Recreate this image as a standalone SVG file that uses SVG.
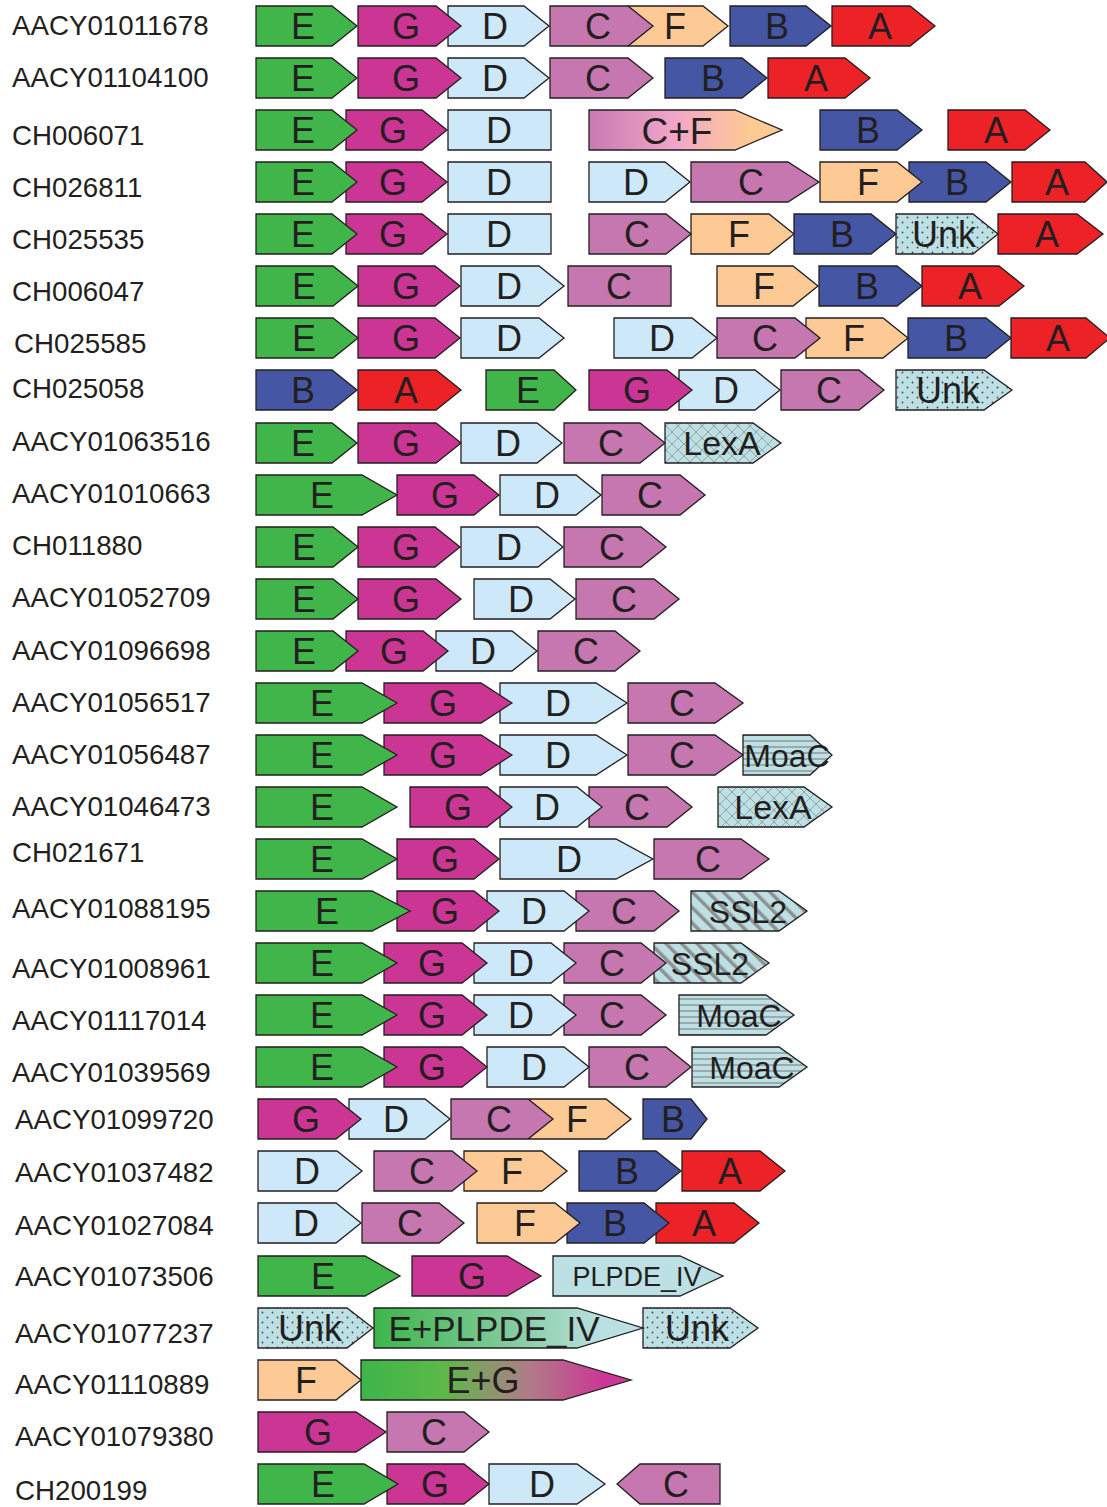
<svg xmlns="http://www.w3.org/2000/svg" width="1107" height="1507" viewBox="0 0 1107 1507">
<style>
text{font-family:"Liberation Sans",Arial,sans-serif;fill:#231f20}
.lb{font-size:27.7px}
.gt{font-size:36px;text-anchor:middle}
.u{font-size:36px}
.s{font-size:32px}
.lx{font-size:34px}
.p{font-size:27px}
.cf{font-size:37px}
.ep{font-size:35px}
path{stroke:#231f20;stroke-width:1.3;stroke-linejoin:miter}
.E{fill:#40b54a}.G{fill:#cb3593}.D{fill:#cde9f9}.C{fill:#c777b0}.F{fill:#fdca95}.B{fill:#4556a4}.A{fill:#ec2227}
.PL{fill:#bce0e3}.UN{fill:url(#pUnk)}.LX{fill:url(#pLex)}.MO{fill:url(#pMoa)}.SS{fill:url(#pSsl)}
.CF{fill:url(#gCF)}.EP{fill:url(#gEP)}.EG{fill:url(#gEG)}
</style>
<defs>
<pattern id="pUnk" width="10" height="10" patternUnits="userSpaceOnUse"><rect width="10" height="10" fill="#bde0e4"/><circle cx="2.5" cy="2.5" r="0.9" fill="#3f4a4c"/><circle cx="7.5" cy="7.5" r="0.9" fill="#3f4a4c"/></pattern>
<pattern id="pLex" width="12" height="12" patternUnits="userSpaceOnUse"><rect width="12" height="12" fill="#bde0e4"/><path d="M0,0L12,12M12,0L0,12" style="stroke:#95a3a5;stroke-width:1"/></pattern>
<pattern id="pMoa" width="6" height="6" patternUnits="userSpaceOnUse"><rect width="6" height="6" fill="#bde0e4"/><rect y="2.3" width="6" height="1.4" fill="#8b9496"/></pattern>
<pattern id="pSsl" width="11" height="11" patternUnits="userSpaceOnUse" patternTransform="rotate(-45)"><rect width="11" height="11" fill="#bde0e4"/><rect width="3.5" height="11" fill="#8e9192"/></pattern>
<linearGradient id="gCF" x1="0" y1="0" x2="1" y2="0"><stop offset="0" stop-color="#c87ab1"/><stop offset="0.45" stop-color="#f3a6c9"/><stop offset="0.82" stop-color="#fdc994"/></linearGradient>
<linearGradient id="gEP" x1="0" y1="0" x2="1" y2="0"><stop offset="0" stop-color="#3db54a"/><stop offset="0.5" stop-color="#80cb9b"/><stop offset="0.85" stop-color="#bbe0e2"/></linearGradient>
<linearGradient id="gEG" x1="0" y1="0" x2="1" y2="0"><stop offset="0" stop-color="#3db54a"/><stop offset="0.3" stop-color="#5cb948"/><stop offset="0.62" stop-color="#b07c88"/><stop offset="0.9" stop-color="#cc3694"/></linearGradient>
</defs>

<g id="labels" class="lb">
<text class="lb" x="12" y="35">AACY01011678</text>
<text class="lb" x="12" y="87">AACY01104100</text>
<text class="lb" x="12" y="145">CH006071</text>
<text class="lb" x="12" y="197">CH026811</text>
<text class="lb" x="12" y="249">CH025535</text>
<text class="lb" x="12" y="301">CH006047</text>
<text class="lb" x="14" y="353">CH025585</text>
<text class="lb" x="12" y="398">CH025058</text>
<text class="lb" x="12" y="451">AACY01063516</text>
<text class="lb" x="12" y="503">AACY01010663</text>
<text class="lb" x="12" y="555">CH011880</text>
<text class="lb" x="12" y="607">AACY01052709</text>
<text class="lb" x="12" y="660">AACY01096698</text>
<text class="lb" x="12" y="712">AACY01056517</text>
<text class="lb" x="12" y="764">AACY01056487</text>
<text class="lb" x="12" y="816">AACY01046473</text>
<text class="lb" x="12" y="862">CH021671</text>
<text class="lb" x="12" y="918">AACY01088195</text>
<text class="lb" x="12" y="978">AACY01008961</text>
<text class="lb" x="12" y="1030">AACY01117014</text>
<text class="lb" x="12" y="1082">AACY01039569</text>
<text class="lb" x="15" y="1129">AACY01099720</text>
<text class="lb" x="15" y="1182">AACY01037482</text>
<text class="lb" x="15" y="1235">AACY01027084</text>
<text class="lb" x="15" y="1286">AACY01073506</text>
<text class="lb" x="15" y="1343">AACY01077237</text>
<text class="lb" x="15" y="1394">AACY01110889</text>
<text class="lb" x="15" y="1446">AACY01079380</text>
<text class="lb" x="15" y="1500">CH200199</text>
</g>

<g id="row1">
<g id="r1-A"><path class="A" d="M832 6H910L935 26L910 46H832Z"/><text class="gt" x="880" y="39">A</text></g>
<g id="r1-B"><path class="B" d="M730 6H806L831 26L806 46H730Z"/><text class="gt" x="777" y="39">B</text></g>
<g id="r1-F"><path class="F" d="M628 6H703L728 26L703 46H628Z"/><text class="gt" x="675" y="39">F</text></g>
<g id="r1-C"><path class="C" d="M550 6H628L653 26L628 46H550Z"/><text class="gt" x="598" y="39">C</text></g>
<g id="r1-D"><path class="D" d="M448 6H524L549 26L524 46H448Z"/><text class="gt" x="495" y="39">D</text></g>
<g id="r1-G"><path class="G" d="M358 6H436L461 26L436 46H358Z"/><text class="gt" x="406" y="39">G</text></g>
<g id="r1-E"><path class="E" d="M256 6H332L357 26L332 46H256Z"/><text class="gt" x="303" y="39">E</text></g>
</g>

<g id="row2">
<g id="r2-A"><path class="A" d="M768 58H845L870 78L845 98H768Z"/><text class="gt" x="816" y="91">A</text></g>
<g id="r2-B"><path class="B" d="M665 58H742L767 78L742 98H665Z"/><text class="gt" x="713" y="91">B</text></g>
<g id="r2-C"><path class="C" d="M550 58H628L653 78L628 98H550Z"/><text class="gt" x="598" y="91">C</text></g>
<g id="r2-D"><path class="D" d="M448 58H524L549 78L524 98H448Z"/><text class="gt" x="495" y="91">D</text></g>
<g id="r2-G"><path class="G" d="M358 58H436L461 78L436 98H358Z"/><text class="gt" x="406" y="91">G</text></g>
<g id="r2-E"><path class="E" d="M256 58H332L357 78L332 98H256Z"/><text class="gt" x="303" y="91">E</text></g>
</g>

<g id="row3">
<g id="r3-A"><path class="A" d="M948 110H1025L1050 130L1025 150H948Z"/><text class="gt" x="996" y="143">A</text></g>
<g id="r3-B"><path class="B" d="M820 110H897L922 130L897 150H820Z"/><text class="gt" x="868" y="143">B</text></g>
<g id="r3-CF"><path class="CF" d="M589 110H735L782 130L735 150H589Z"/><text class="gt cf" x="677" y="144">C+F</text></g>
<g id="r3-D"><path class="D" d="M448 110H551V150H448Z"/><text class="gt" x="499" y="143">D</text></g>
<g id="r3-G"><path class="G" d="M346 110H422L447 130L422 150H346Z"/><text class="gt" x="393" y="143">G</text></g>
<g id="r3-E"><path class="E" d="M256 110H332L357 130L332 150H256Z"/><text class="gt" x="303" y="143">E</text></g>
</g>

<g id="row4">
<g id="r4-A"><path class="A" d="M1012 162H1085L1107 182L1085 202H1012Z"/><text class="gt" x="1057" y="195">A</text></g>
<g id="r4-B"><path class="B" d="M909 162H986L1011 182L986 202H909Z"/><text class="gt" x="957" y="195">B</text></g>
<g id="r4-F"><path class="F" d="M820 162H897L922 182L897 202H820Z"/><text class="gt" x="868" y="195">F</text></g>
<g id="r4-C"><path class="C" d="M691 162H788L819 182L788 202H691Z"/><text class="gt" x="751" y="195">C</text></g>
<g id="r4-D2"><path class="D" d="M589 162H665L690 182L665 202H589Z"/><text class="gt" x="636" y="195">D</text></g>
<g id="r4-D"><path class="D" d="M448 162H551V202H448Z"/><text class="gt" x="499" y="195">D</text></g>
<g id="r4-G"><path class="G" d="M346 162H422L447 182L422 202H346Z"/><text class="gt" x="393" y="195">G</text></g>
<g id="r4-E"><path class="E" d="M256 162H332L357 182L332 202H256Z"/><text class="gt" x="303" y="195">E</text></g>
</g>

<g id="row5">
<g id="r5-A"><path class="A" d="M998 214H1077L1103 234L1077 254H998Z"/><text class="gt" x="1047" y="247">A</text></g>
<g id="r5-Unk"><path class="UN" d="M896 214H973L998 234L973 254H896Z"/><text class="gt u" x="944" y="247">Unk</text></g>
<g id="r5-B"><path class="B" d="M794 214H871L896 234L871 254H794Z"/><text class="gt" x="842" y="247">B</text></g>
<g id="r5-F"><path class="F" d="M691 214H769L794 234L769 254H691Z"/><text class="gt" x="739" y="247">F</text></g>
<g id="r5-C"><path class="C" d="M589 214H666L691 234L666 254H589Z"/><text class="gt" x="637" y="247">C</text></g>
<g id="r5-D"><path class="D" d="M448 214H551V254H448Z"/><text class="gt" x="499" y="247">D</text></g>
<g id="r5-G"><path class="G" d="M346 214H422L447 234L422 254H346Z"/><text class="gt" x="393" y="247">G</text></g>
<g id="r5-E"><path class="E" d="M256 214H332L357 234L332 254H256Z"/><text class="gt" x="303" y="247">E</text></g>
</g>

<g id="row6">
<g id="r6-A"><path class="A" d="M922 266H999L1024 286L999 306H922Z"/><text class="gt" x="970" y="299">A</text></g>
<g id="r6-B"><path class="B" d="M819 266H897L922 286L897 306H819Z"/><text class="gt" x="867" y="299">B</text></g>
<g id="r6-F"><path class="F" d="M717 266H793L818 286L793 306H717Z"/><text class="gt" x="764" y="299">F</text></g>
<g id="r6-C"><path class="C" d="M568 266H671V306H568Z"/><text class="gt" x="619" y="299">C</text></g>
<g id="r6-D"><path class="D" d="M461 266H539L564 286L539 306H461Z"/><text class="gt" x="509" y="299">D</text></g>
<g id="r6-G"><path class="G" d="M358 266H435L460 286L435 306H358Z"/><text class="gt" x="406" y="299">G</text></g>
<g id="r6-E"><path class="E" d="M256 266H333L358 286L333 306H256Z"/><text class="gt" x="304" y="299">E</text></g>
</g>

<g id="row7">
<g id="r7-A"><path class="A" d="M1011 318H1086L1110 338L1086 358H1011Z"/><text class="gt" x="1058" y="351">A</text></g>
<g id="r7-B"><path class="B" d="M908 318H986L1011 338L986 358H908Z"/><text class="gt" x="956" y="351">B</text></g>
<g id="r7-F"><path class="F" d="M806 318H883L908 338L883 358H806Z"/><text class="gt" x="854" y="351">F</text></g>
<g id="r7-C"><path class="C" d="M717 318H795L820 338L795 358H717Z"/><text class="gt" x="765" y="351">C</text></g>
<g id="r7-D2"><path class="D" d="M614 318H692L717 338L692 358H614Z"/><text class="gt" x="662" y="351">D</text></g>
<g id="r7-D"><path class="D" d="M461 318H539L564 338L539 358H461Z"/><text class="gt" x="509" y="351">D</text></g>
<g id="r7-G"><path class="G" d="M358 318H435L460 338L435 358H358Z"/><text class="gt" x="406" y="351">G</text></g>
<g id="r7-E"><path class="E" d="M256 318H333L358 338L333 358H256Z"/><text class="gt" x="304" y="351">E</text></g>
</g>

<g id="row8">
<g id="r8-Unk"><path class="UN" d="M896 370H984L1012 390L984 410H896Z"/><text class="gt u" x="948" y="403">Unk</text></g>
<g id="r8-C"><path class="C" d="M781 370H859L884 390L859 410H781Z"/><text class="gt" x="829" y="403">C</text></g>
<g id="r8-D"><path class="D" d="M679 370H755L780 390L755 410H679Z"/><text class="gt" x="726" y="403">D</text></g>
<g id="r8-G"><path class="G" d="M589 370H667L692 390L667 410H589Z"/><text class="gt" x="637" y="403">G</text></g>
<g id="r8-E"><path class="E" d="M486 370H554L576 390L554 410H486Z"/><text class="gt" x="528" y="403">E</text></g>
<g id="r8-A"><path class="A" d="M358 370H436L461 390L436 410H358Z"/><text class="gt" x="406" y="403">A</text></g>
<g id="r8-B"><path class="B" d="M256 370H332L357 390L332 410H256Z"/><text class="gt" x="303" y="403">B</text></g>
</g>

<g id="row9">
<g id="r9-LexA"><path class="LX" d="M665 423H753L781 443L753 463H665Z"/><text class="gt lx" x="722" y="455">LexA</text></g>
<g id="r9-C"><path class="C" d="M564 423H640L665 443L640 463H564Z"/><text class="gt" x="611" y="456">C</text></g>
<g id="r9-D"><path class="D" d="M461 423H537L562 443L537 463H461Z"/><text class="gt" x="508" y="456">D</text></g>
<g id="r9-G"><path class="G" d="M358 423H436L461 443L436 463H358Z"/><text class="gt" x="406" y="456">G</text></g>
<g id="r9-E"><path class="E" d="M256 423H332L357 443L332 463H256Z"/><text class="gt" x="303" y="456">E</text></g>
</g>

<g id="row10">
<g id="r10-C"><path class="C" d="M602 475H680L705 495L680 515H602Z"/><text class="gt" x="650" y="508">C</text></g>
<g id="r10-D"><path class="D" d="M500 475H576L601 495L576 515H500Z"/><text class="gt" x="547" y="508">D</text></g>
<g id="r10-G"><path class="G" d="M397 475H474L499 495L474 515H397Z"/><text class="gt" x="445" y="508">G</text></g>
<g id="r10-E"><path class="E" d="M256 475H362L397 495L362 515H256Z"/><text class="gt" x="322" y="508">E</text></g>
</g>

<g id="row11">
<g id="r11-C"><path class="C" d="M564 527H641L666 547L641 567H564Z"/><text class="gt" x="612" y="560">C</text></g>
<g id="r11-D"><path class="D" d="M461 527H538L563 547L538 567H461Z"/><text class="gt" x="509" y="560">D</text></g>
<g id="r11-G"><path class="G" d="M358 527H435L460 547L435 567H358Z"/><text class="gt" x="406" y="560">G</text></g>
<g id="r11-E"><path class="E" d="M256 527H333L358 547L333 567H256Z"/><text class="gt" x="304" y="560">E</text></g>
</g>

<g id="row12">
<g id="r12-C"><path class="C" d="M576 579H654L679 599L654 619H576Z"/><text class="gt" x="624" y="612">C</text></g>
<g id="r12-D"><path class="D" d="M474 579H550L575 599L550 619H474Z"/><text class="gt" x="521" y="612">D</text></g>
<g id="r12-G"><path class="G" d="M358 579H436L461 599L436 619H358Z"/><text class="gt" x="406" y="612">G</text></g>
<g id="r12-E"><path class="E" d="M256 579H333L358 599L333 619H256Z"/><text class="gt" x="304" y="612">E</text></g>
</g>

<g id="row13">
<g id="r13-C"><path class="C" d="M538 631H615L640 651L615 671H538Z"/><text class="gt" x="586" y="664">C</text></g>
<g id="r13-D"><path class="D" d="M436 631H512L537 651L512 671H436Z"/><text class="gt" x="483" y="664">D</text></g>
<g id="r13-G"><path class="G" d="M346 631H423L448 651L423 671H346Z"/><text class="gt" x="394" y="664">G</text></g>
<g id="r13-E"><path class="E" d="M256 631H333L358 651L333 671H256Z"/><text class="gt" x="304" y="664">E</text></g>
</g>

<g id="row14">
<g id="r14-C"><path class="C" d="M628 683H715L743 703L715 723H628Z"/><text class="gt" x="682" y="716">C</text></g>
<g id="r14-D"><path class="D" d="M500 683H596L627 703L596 723H500Z"/><text class="gt" x="558" y="716">D</text></g>
<g id="r14-G"><path class="G" d="M384 683H481L512 703L481 723H384Z"/><text class="gt" x="443" y="716">G</text></g>
<g id="r14-E"><path class="E" d="M256 683H362L397 703L362 723H256Z"/><text class="gt" x="322" y="716">E</text></g>
</g>

<g id="row15">
<g id="r15-MoaC"><path class="MO" d="M743 735H810L832 755L810 775H743Z"/><text class="gt s" x="787" y="767">MoaC</text></g>
<g id="r15-C"><path class="C" d="M628 735H715L743 755L715 775H628Z"/><text class="gt" x="682" y="768">C</text></g>
<g id="r15-D"><path class="D" d="M500 735H596L627 755L596 775H500Z"/><text class="gt" x="558" y="768">D</text></g>
<g id="r15-G"><path class="G" d="M384 735H481L512 755L481 775H384Z"/><text class="gt" x="443" y="768">G</text></g>
<g id="r15-E"><path class="E" d="M256 735H362L397 755L362 775H256Z"/><text class="gt" x="322" y="768">E</text></g>
</g>

<g id="row16">
<g id="r16-LexA"><path class="LX" d="M718 787H804L832 807L804 827H718Z"/><text class="gt lx" x="773" y="819">LexA</text></g>
<g id="r16-C"><path class="C" d="M589 787H667L692 807L667 827H589Z"/><text class="gt" x="637" y="820">C</text></g>
<g id="r16-D"><path class="D" d="M500 787H577L602 807L577 827H500Z"/><text class="gt" x="547" y="820">D</text></g>
<g id="r16-G"><path class="G" d="M410 787H487L512 807L487 827H410Z"/><text class="gt" x="458" y="820">G</text></g>
<g id="r16-E"><path class="E" d="M256 787H362L397 807L362 827H256Z"/><text class="gt" x="322" y="820">E</text></g>
</g>

<g id="row17">
<g id="r17-C"><path class="C" d="M654 839H741L769 859L741 879H654Z"/><text class="gt" x="708" y="872">C</text></g>
<g id="r17-D"><path class="D" d="M500 839H616L653 859L616 879H500Z"/><text class="gt" x="569" y="872">D</text></g>
<g id="r17-G"><path class="G" d="M397 839H474L499 859L474 879H397Z"/><text class="gt" x="445" y="872">G</text></g>
<g id="r17-E"><path class="E" d="M256 839H362L397 859L362 879H256Z"/><text class="gt" x="322" y="872">E</text></g>
</g>

<g id="row18">
<g id="r18-SSL2"><path class="SS" d="M691 891H779L807 911L779 931H691Z"/><text class="gt s" x="748" y="923">SSL2</text></g>
<g id="r18-C"><path class="C" d="M576 891H654L679 911L654 931H576Z"/><text class="gt" x="624" y="924">C</text></g>
<g id="r18-D"><path class="D" d="M487 891H564L589 911L564 931H487Z"/><text class="gt" x="534" y="924">D</text></g>
<g id="r18-G"><path class="G" d="M397 891H474L499 911L474 931H397Z"/><text class="gt" x="445" y="924">G</text></g>
<g id="r18-E"><path class="E" d="M256 891H372L410 911L372 931H256Z"/><text class="gt" x="327" y="924">E</text></g>
</g>

<g id="row19">
<g id="r19-SSL2"><path class="SS" d="M654 943H741L769 963L741 983H654Z"/><text class="gt s" x="710" y="975">SSL2</text></g>
<g id="r19-C"><path class="C" d="M564 943H641L666 963L641 983H564Z"/><text class="gt" x="612" y="976">C</text></g>
<g id="r19-D"><path class="D" d="M474 943H551L576 963L551 983H474Z"/><text class="gt" x="521" y="976">D</text></g>
<g id="r19-G"><path class="G" d="M384 943H462L487 963L462 983H384Z"/><text class="gt" x="432" y="976">G</text></g>
<g id="r19-E"><path class="E" d="M256 943H362L397 963L362 983H256Z"/><text class="gt" x="322" y="976">E</text></g>
</g>

<g id="row20">
<g id="r20-MoaC"><path class="MO" d="M679 995H766L794 1015L766 1035H679Z"/><text class="gt s" x="739" y="1027">MoaC</text></g>
<g id="r20-C"><path class="C" d="M564 995H641L666 1015L641 1035H564Z"/><text class="gt" x="612" y="1028">C</text></g>
<g id="r20-D"><path class="D" d="M474 995H551L576 1015L551 1035H474Z"/><text class="gt" x="521" y="1028">D</text></g>
<g id="r20-G"><path class="G" d="M384 995H462L487 1015L462 1035H384Z"/><text class="gt" x="432" y="1028">G</text></g>
<g id="r20-E"><path class="E" d="M256 995H362L397 1015L362 1035H256Z"/><text class="gt" x="322" y="1028">E</text></g>
</g>

<g id="row21">
<g id="r21-MoaC"><path class="MO" d="M692 1047H779L807 1067L779 1087H692Z"/><text class="gt s" x="752" y="1079">MoaC</text></g>
<g id="r21-C"><path class="C" d="M589 1047H666L691 1067L666 1087H589Z"/><text class="gt" x="637" y="1080">C</text></g>
<g id="r21-D"><path class="D" d="M487 1047H564L589 1067L564 1087H487Z"/><text class="gt" x="534" y="1080">D</text></g>
<g id="r21-G"><path class="G" d="M384 1047H462L487 1067L462 1087H384Z"/><text class="gt" x="432" y="1080">G</text></g>
<g id="r21-E"><path class="E" d="M256 1047H362L397 1067L362 1087H256Z"/><text class="gt" x="322" y="1080">E</text></g>
</g>

<g id="row22">
<g id="r22-B"><path class="B" d="M643 1099H691L707 1119L691 1139H643Z"/><text class="gt" x="673" y="1132">B</text></g>
<g id="r22-F"><path class="F" d="M529 1099H606L631 1119L606 1139H529Z"/><text class="gt" x="577" y="1132">F</text></g>
<g id="r22-C"><path class="C" d="M451 1099H528L553 1119L528 1139H451Z"/><text class="gt" x="499" y="1132">C</text></g>
<g id="r22-D"><path class="D" d="M349 1099H425L450 1119L425 1139H349Z"/><text class="gt" x="396" y="1132">D</text></g>
<g id="r22-G"><path class="G" d="M258 1099H336L361 1119L336 1139H258Z"/><text class="gt" x="306" y="1132">G</text></g>
</g>

<g id="row23">
<g id="r23-A"><path class="A" d="M682 1151H760L785 1171L760 1191H682Z"/><text class="gt" x="730" y="1184">A</text></g>
<g id="r23-B"><path class="B" d="M579 1151H656L681 1171L656 1191H579Z"/><text class="gt" x="627" y="1184">B</text></g>
<g id="r23-F"><path class="F" d="M464 1151H542L567 1171L542 1191H464Z"/><text class="gt" x="512" y="1184">F</text></g>
<g id="r23-C"><path class="C" d="M374 1151H452L477 1171L452 1191H374Z"/><text class="gt" x="422" y="1184">C</text></g>
<g id="r23-D"><path class="D" d="M258 1151H337L362 1171L337 1191H258Z"/><text class="gt" x="307" y="1184">D</text></g>
</g>

<g id="row24">
<g id="r24-A"><path class="A" d="M656 1203H734L759 1223L734 1243H656Z"/><text class="gt" x="704" y="1236">A</text></g>
<g id="r24-B"><path class="B" d="M567 1203H644L669 1223L644 1243H567Z"/><text class="gt" x="615" y="1236">B</text></g>
<g id="r24-F"><path class="F" d="M477 1203H555L580 1223L555 1243H477Z"/><text class="gt" x="525" y="1236">F</text></g>
<g id="r24-C"><path class="C" d="M362 1203H439L464 1223L439 1243H362Z"/><text class="gt" x="410" y="1236">C</text></g>
<g id="r24-D"><path class="D" d="M258 1203H336L361 1223L336 1243H258Z"/><text class="gt" x="306" y="1236">D</text></g>
</g>

<g id="row25">
<g id="r25-PLPDE"><path class="PL" d="M553 1256H680L723 1276L680 1296H553Z"/><text class="gt p" x="637" y="1286">PLPDE_IV</text></g>
<g id="r25-G"><path class="G" d="M412 1256H507L541 1276L507 1296H412Z"/><text class="gt" x="472" y="1289">G</text></g>
<g id="r25-E"><path class="E" d="M258 1256H365L400 1276L365 1296H258Z"/><text class="gt" x="323" y="1289">E</text></g>
</g>

<g id="row26">
<g id="r26-Unk2"><path class="UN" d="M643 1308H730L758 1328L730 1348H643Z"/><text class="gt u" x="697" y="1341">Unk</text></g>
<g id="r26-EP"><path class="EP" d="M374 1308H577L643 1328L577 1348H374Z"/><text class="gt ep" x="494" y="1341">E+PLPDE_IV</text></g>
<g id="r26-Unk1"><path class="UN" d="M258 1308H347L373 1328L347 1348H258Z"/><text class="gt u" x="310" y="1341">Unk</text></g>
</g>

<g id="row27">
<g id="r27-EG"><path class="EG" d="M361 1360H563L631 1380L563 1400H361Z"/><text class="gt" x="483" y="1393">E+G</text></g>
<g id="r27-F"><path class="F" d="M258 1360H336L361 1380L336 1400H258Z"/><text class="gt" x="306" y="1393">F</text></g>
</g>

<g id="row28">
<g id="r28-C"><path class="C" d="M387 1412H464L489 1432L464 1452H387Z"/><text class="gt" x="434" y="1445">C</text></g>
<g id="r28-G"><path class="G" d="M258 1412H356L386 1432L356 1452H258Z"/><text class="gt" x="318" y="1445">G</text></g>
</g>

<g id="row29">
<g id="r29-C"><path class="C" d="M720 1464H640L617 1484L640 1504H720Z"/><text class="gt" x="676" y="1497">C</text></g>
<g id="r29-D"><path class="D" d="M489 1464H577L605 1484L577 1504H489Z"/><text class="gt" x="542" y="1497">D</text></g>
<g id="r29-G"><path class="G" d="M387 1464H464L489 1484L464 1504H387Z"/><text class="gt" x="435" y="1497">G</text></g>
<g id="r29-E"><path class="E" d="M258 1464H364L398 1484L364 1504H258Z"/><text class="gt" x="323" y="1497">E</text></g>
</g>

<g id="connectors"></g>
</svg>
